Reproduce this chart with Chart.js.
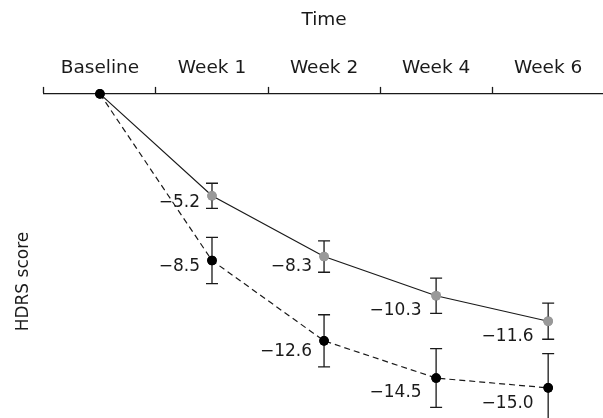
<!DOCTYPE html>
<html>
<head>
<meta charset="utf-8">
<script src="https://cdn.jsdelivr.net/npm/chart.js@4/dist/chart.umd.min.js"></script>
<style>
  html, body { margin: 0; padding: 0; background: #fff; overflow: hidden; }
  canvas { display: block; }
</style>
</head>
<body>
<canvas id="hdrsChart" width="609" height="474"></canvas>
<script>
const labels = ['Baseline', 'Week 1', 'Week 2', 'Week 4', 'Week 6'];

// change from baseline in HDRS score
const blackMeans = [0, -8.5, -12.6, -14.5, -15.0];
const blackErrors = [0, 1.18, 1.33, 1.5, 1.75];
const grayMeans = [0, -5.2, -8.3, -10.3, -11.6];
const grayErrors = [0, 0.64, 0.8, 0.9, 0.92];

const ink = '#1a1a1a';
const family = '"DejaVu Sans", "Liberation Sans", sans-serif';
const axisFont = { family, size: 18.5 };

// where the value labels sit relative to their point, by time point
const labelShiftX = [0, 12, 12, 14.5, 14.5];
const labelShiftY = [0, 6.5, 10.5, 15, 15.5];

const errorBars = {
  id: 'errorBars',
  afterDatasetsDraw(chart) {
    const ctx = chart.ctx;
    const yScale = chart.scales.y;
    const sets = chart.data.datasets;
    ctx.save();
    ctx.strokeStyle = ink;
    ctx.lineWidth = 1.3;
    sets.forEach((ds, di) => {
      chart.getDatasetMeta(di).data.forEach((pt, i) => {
        const err = ds.errors[i];
        if (!err) return;
        const top = yScale.getPixelForValue(ds.data[i] + err);
        const bottom = yScale.getPixelForValue(ds.data[i] - err);
        ctx.beginPath();
        ctx.moveTo(pt.x, top);
        ctx.lineTo(pt.x, bottom);
        ctx.moveTo(pt.x - 6, top);
        ctx.lineTo(pt.x + 6, top);
        ctx.moveTo(pt.x - 6, bottom);
        ctx.lineTo(pt.x + 6, bottom);
        ctx.stroke();
      });
    });
    // points go back over the bars, first dataset last
    for (let di = sets.length - 1; di >= 0; di--) {
      chart.getDatasetMeta(di).data.forEach((pt) => pt.draw(ctx));
    }
    ctx.fillStyle = ink;
    ctx.font = '17px ' + family;
    ctx.textAlign = 'right';
    ctx.textBaseline = 'middle';
    sets.forEach((ds, di) => {
      chart.getDatasetMeta(di).data.forEach((pt, i) => {
        if (i === 0) return;
        const txt = '\u2212' + Math.abs(ds.data[i]).toFixed(1);
        ctx.fillText(txt, pt.x - labelShiftX[i], pt.y + labelShiftY[i]);
      });
    });
    ctx.restore();
  },
};

const hdrsCtx = document.getElementById('hdrsChart').getContext('2d');

const hdrsChart = new Chart(hdrsCtx, {
  type: 'line',
  data: {
    labels,
    datasets: [
      {
        data: blackMeans,
        errors: blackErrors,
        borderColor: ink,
        borderWidth: 1.2,
        borderDash: [6, 4],
        pointRadius: 4.8,
        pointBackgroundColor: '#000',
        pointBorderWidth: 0,
        tension: 0,
        clip: false,
      },
      {
        data: grayMeans,
        errors: grayErrors,
        borderColor: ink,
        borderWidth: 1.2,
        pointRadius: [0, 4.8, 4.8, 4.8, 4.8],
        pointBackgroundColor: '#999999',
        pointBorderWidth: 0,
        tension: 0,
        clip: false,
      },
    ],
  },
  options: {
    responsive: false,
    animation: false,
    layout: {
      padding: { top: 9, left: 13, right: 2, bottom: 0 },
    },
    plugins: {
      legend: { display: false },
      tooltip: { enabled: false },
    },
    scales: {
      x: {
        position: 'top',
        offset: true,
        grid: {
          offset: true,
          drawOnChartArea: false,
          drawTicks: true,
          tickLength: 7,
          tickWidth: 1.3,
          tickColor: ink,
        },
        border: { color: ink, width: 1.3 },
        ticks: { color: ink, font: axisFont, padding: 8, maxRotation: 0 },
        title: {
          display: true,
          text: 'Time',
          color: ink,
          font: axisFont,
          padding: { top: 0, bottom: 17.5 },
        },
      },
      y: {
        min: -19.15,
        max: 0,
        grid: { display: false },
        border: { display: false },
        ticks: { display: false },
        title: {
          display: true,
          text: 'HDRS score',
          color: ink,
          font: { family, size: 17 },
          padding: { top: 0, bottom: 2.5 },
        },
      },
    },
  },
  plugins: [errorBars],
});
</script>
</body>
</html>
